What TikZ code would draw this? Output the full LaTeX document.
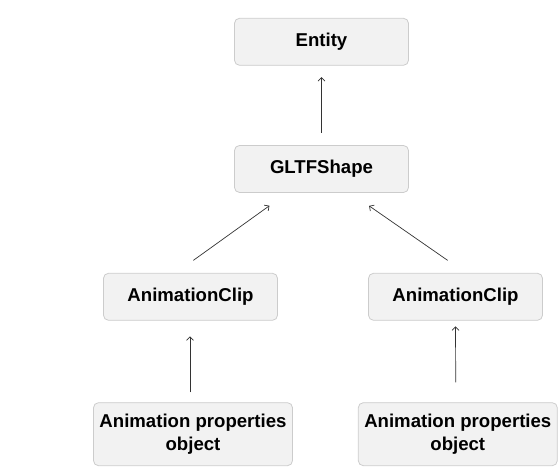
\documentclass[tikz,border=0pt]{standalone}
\usepackage{fontspec}
\setmainfont{Liberation Sans}
\usetikzlibrary{arrows.meta}
\definecolor{boxfill}{HTML}{F2F2F2}
\definecolor{boxline}{HTML}{CCCCCC}
\definecolor{linkline}{HTML}{333333}

\tikzset{
  block/.style={
    rectangle,
    rounded corners=5pt,
    draw=boxline,
    fill=boxfill,
    line width=0.8pt,
    minimum width=174pt,
    minimum height=47pt,
    inner sep=2pt,
    text centered,
    align=center,
    font=\fontsize{18.6}{23.3}\selectfont\bfseries
  },
  wideblock/.style={block, minimum width=199pt, minimum height=63pt},
  link/.style={draw=linkline, line width=0.7pt, -{Straight Barb[length=3.5pt,width=7pt]}},
}

\begin{document}
\begin{tikzpicture}[x=1pt, y=1pt]
  \useasboundingbox (0, 0) rectangle (558, 468);
  \node[block, anchor=center] (entity) at (321.5, 426.2) {Entity};
  \node[block, anchor=center] (gltf) at (321.5, 299) {GLTFShape};
  \node[block, anchor=center] (clipL) at (190.5, 171.2) {AnimationClip};
  \node[block, anchor=center] (clipR) at (455.5, 171.2) {AnimationClip};
  \node[wideblock, anchor=center] (propsL) at (193, 33.8) {Animation properties\\object};
  \node[wideblock, anchor=center] (propsR) at (457.8, 33.8) {Animation properties\\object};
  \draw[link, shorten <=12.5pt, shorten >=11.5pt] (gltf) -- (entity);
  \draw[link, shorten <=21.5pt, shorten >=22pt] ([xshift=-14.6pt]clipL.north) -- ([xshift=-34.2pt]gltf.south);
  \draw[link, shorten <=22pt, shorten >=22.7pt] ([xshift=10.2pt]clipR.north) -- ([xshift=28.9pt]gltf.south);
  \draw[link, shorten <=10pt, shorten >=15.7pt] ([xshift=-3pt]propsL.north) -- ([xshift=-0.5pt]clipL.south);
  \draw[link, shorten <=20pt, shorten >=5.7pt] ([xshift=-2pt]propsR.north) -- (clipR.south);
\end{tikzpicture}
\end{document}
